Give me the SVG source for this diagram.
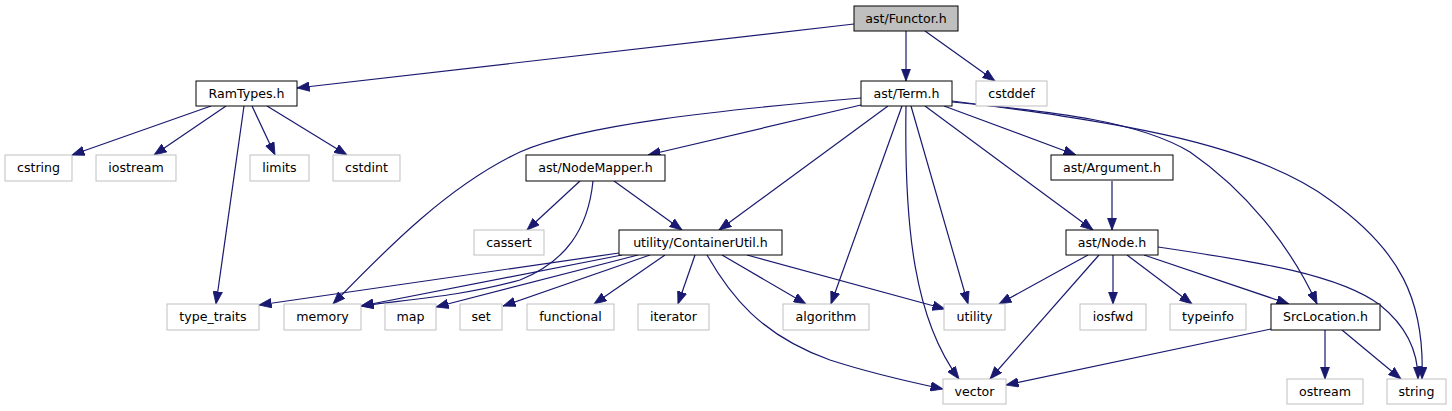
<svg xmlns="http://www.w3.org/2000/svg" width="1452" height="411" viewBox="0 0 1452 411">
<style>
rect{fill:#fff;stroke:#000;stroke-width:1}
.root rect{fill:#bfbfbf}
.ext rect{stroke:#bfbfbf}
text{font-family:"DejaVu Sans","Liberation Sans",sans-serif;font-size:12.6px;text-anchor:middle;fill:#000}
#edges path{fill:none;stroke:#191970;stroke-width:1.2;marker-end:url(#ah)}
</style>
<defs>
<marker id="ah" markerUnits="userSpaceOnUse" markerWidth="13" markerHeight="10" refX="12.5" refY="5" orient="auto">
<path d="M0,0.3 L12.5,5 L0,9.7 z" fill="#191970" stroke="#191970" stroke-width="0.8"/>
</marker>
</defs>
<g id="edges">
<path d="M854,24 L297,88"/>
<path d="M906,31 L906,81"/>
<path d="M925,31 L995,81"/>
<path d="M211,106 L72,155"/>
<path d="M226,106 L154,155"/>
<path d="M244,106 L216,304"/>
<path d="M252,106 L275,155"/>
<path d="M267,106 L347,155"/>
<path d="M861,98 C720,110 580,125 520,152 C450,185 390,245 333,304"/>
<path d="M861,105 L648,155"/>
<path d="M888,106 L719,230"/>
<path d="M902,106 L831,304"/>
<path d="M906,106 C904,230 915,320 959,379"/>
<path d="M911,106 L968,304"/>
<path d="M925,106 L1093,230"/>
<path d="M944,106 L1076,155"/>
<path d="M952,102 C1060,112 1140,122 1190,152 C1245,190 1290,245 1317,304"/>
<path d="M952,101 C1100,120 1250,140 1330,200 C1400,250 1425,300 1422,379"/>
<path d="M580,181 L527,230"/>
<path d="M614,181 L682,230"/>
<path d="M593,181 C588,230 565,262 520,280 C460,297 400,300 361,306"/>
<path d="M619,253 L259,305"/>
<path d="M622,255 L361,306"/>
<path d="M638,255 L436,307"/>
<path d="M650,255 L503,306"/>
<path d="M665,255 L594,304"/>
<path d="M695,255 L678,304"/>
<path d="M707,255 C730,295 760,335 830,360 C870,373 910,382 943,389"/>
<path d="M722,255 L806,304"/>
<path d="M747,255 L945,309"/>
<path d="M1112,181 L1112,230"/>
<path d="M1088,255 L999,304"/>
<path d="M1099,255 L990,379"/>
<path d="M1113,255 L1113,304"/>
<path d="M1127,255 L1192,304"/>
<path d="M1144,255 L1289,304"/>
<path d="M1158,247 C1260,262 1340,275 1380,305 C1405,325 1418,350 1418,379"/>
<path d="M1271,329 L1006,385"/>
<path d="M1325,330 L1325,379"/>
<path d="M1342,330 L1401,379"/>
</g>
<g id="functor" class="root"><rect x="854" y="6" width="104" height="25"/><text x="906" y="22.5">ast/Functor.h</text></g>
<g id="ramtypes"><rect x="196" y="81" width="101" height="25"/><text x="246.5" y="97.5">RamTypes.h</text></g>
<g id="term"><rect x="861" y="81" width="91" height="25"/><text x="906.5" y="97.5">ast/Term.h</text></g>
<g id="cstddef" class="ext"><rect x="976" y="81" width="71" height="25"/><text x="1011.5" y="97.5">cstddef</text></g>
<g id="cstring" class="ext"><rect x="5" y="155" width="67" height="26"/><text x="38.5" y="171.5">cstring</text></g>
<g id="iostream" class="ext"><rect x="96" y="155" width="80" height="26"/><text x="136" y="171.5">iostream</text></g>
<g id="limits" class="ext"><rect x="250" y="155" width="59" height="26"/><text x="279.5" y="171.5">limits</text></g>
<g id="cstdint" class="ext"><rect x="333" y="155" width="67" height="26"/><text x="366.5" y="171.5">cstdint</text></g>
<g id="nodemapper"><rect x="526" y="155" width="139" height="26"/><text x="595.5" y="171.5">ast/NodeMapper.h</text></g>
<g id="argument"><rect x="1051" y="155" width="122" height="25"/><text x="1112" y="171.5">ast/Argument.h</text></g>
<g id="cassert" class="ext"><rect x="474" y="230" width="70" height="25"/><text x="509" y="246.5">cassert</text></g>
<g id="containerutil"><rect x="619" y="230" width="163" height="25"/><text x="700.5" y="246.5">utility/ContainerUtil.h</text></g>
<g id="node"><rect x="1066" y="230" width="92" height="25"/><text x="1112" y="246.5">ast/Node.h</text></g>
<g id="type_traits" class="ext"><rect x="167" y="304" width="92" height="26"/><text x="213" y="320.5">type_traits</text></g>
<g id="memory" class="ext"><rect x="284" y="304" width="77" height="26"/><text x="322.5" y="320.5">memory</text></g>
<g id="map" class="ext"><rect x="385" y="304" width="51" height="26"/><text x="410.5" y="320.5">map</text></g>
<g id="set" class="ext"><rect x="460" y="304" width="42" height="26"/><text x="481" y="320.5">set</text></g>
<g id="functional" class="ext"><rect x="527" y="304" width="87" height="26"/><text x="570.5" y="320.5">functional</text></g>
<g id="iterator" class="ext"><rect x="638" y="304" width="71" height="26"/><text x="673.5" y="320.5">iterator</text></g>
<g id="algorithm" class="ext"><rect x="783" y="304" width="86" height="26"/><text x="826" y="320.5">algorithm</text></g>
<g id="utility" class="ext"><rect x="944" y="304" width="61" height="26"/><text x="974.5" y="320.5">utility</text></g>
<g id="iosfwd" class="ext"><rect x="1080" y="304" width="66" height="26"/><text x="1113" y="320.5">iosfwd</text></g>
<g id="typeinfo" class="ext"><rect x="1170" y="304" width="76" height="26"/><text x="1208" y="320.5">typeinfo</text></g>
<g id="srclocation"><rect x="1271" y="304" width="109" height="26"/><text x="1325.5" y="320.5">SrcLocation.h</text></g>
<g id="vector" class="ext"><rect x="943" y="379" width="63" height="25"/><text x="974.5" y="395.5">vector</text></g>
<g id="ostream" class="ext"><rect x="1287" y="379" width="76" height="25"/><text x="1325" y="395.5">ostream</text></g>
<g id="string" class="ext"><rect x="1387" y="379" width="59" height="25"/><text x="1416.5" y="395.5">string</text></g>
</svg>
